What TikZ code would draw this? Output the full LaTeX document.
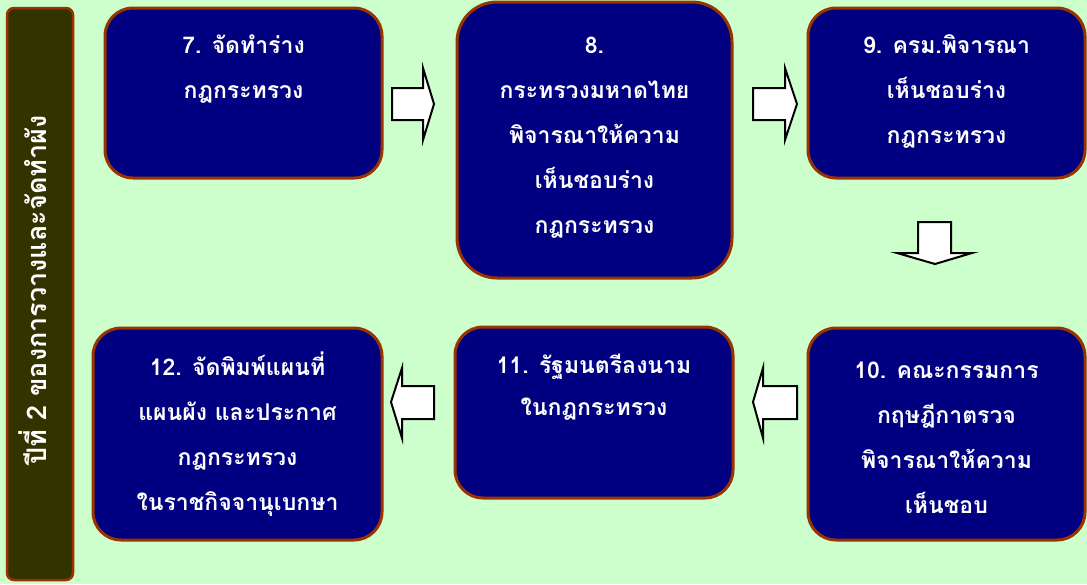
\documentclass[tikz,border=0pt]{standalone}
\usepackage{fontspec}
\newfontfamily\thai[Script=Thai]{Loma}
\definecolor{bgc}{HTML}{CCFFCC}
\definecolor{navy}{HTML}{000080}
\definecolor{brownb}{HTML}{993300}
\definecolor{olive}{HTML}{333300}
\newcommand\tstrut{\rule{0pt}{24pt}}
\tikzset{
  box/.style={draw=brownb, fill=navy, line width=3pt, rounded corners=28pt, inner sep=0pt},
  txt/.style={text=white, align=center, inner sep=0pt, anchor=north, font=\thai\bfseries\fontsize{23pt}{45pt}\selectfont},
  blockarr/.style={draw=black, fill=white, line width=2pt, line join=miter},
  bar/.style={draw=brownb, fill=olive, line width=2.5pt, rounded corners=7pt, inner sep=0pt}
}
\begin{document}
\begin{tikzpicture}[x=1pt,y=-1pt]
\fill[bgc] (0,0) rectangle (1087,584);
\useasboundingbox (0,0) rectangle (1087,584);

\node[bar, minimum width=66pt, minimum height=572pt] (bar) at (40,294) {};
\node[text=white, rotate=90, inner sep=0pt, font=\thai\bfseries\fontsize{27pt}{30pt}\selectfont] (bartxt) at (33,290) {ปีที่ 2 ของการวางและจัดทำผัง};

\node[box, minimum width=277pt, minimum height=170pt] (b7) at (243.5,93) {};
\node[box, rounded corners=40pt, minimum width=275pt, minimum height=276pt] (b8) at (594.5,140) {};
\node[box, minimum width=277pt, minimum height=170pt] (b9) at (946.5,93) {};
\node[box, minimum width=277pt, minimum height=212pt] (b10) at (946.5,434) {};
\node[box, minimum width=278pt, minimum height=171pt] (b11) at (594,412.5) {};
\node[box, minimum width=289pt, minimum height=212pt] (b12) at (237.5,434) {};

\node[txt] (t7) at (243.5,29.5) {\tstrut 7. จัดทำร่าง\\กฎกระทรวง};
\node[txt] (t8) at (594.5,29.5) {\tstrut 8.\\กระทรวงมหาดไทย\\พิจารณาให้ความ\\เห็นชอบร่าง\\กฎกระทรวง};
\node[txt] (t9) at (946.5,29.5) {\tstrut 9. ครม.พิจารณา\\เห็นชอบร่าง\\กฎกระทรวง};
\node[txt] (t10) at (946.5,354.5) {\tstrut 10. คณะกรรมการ\\กฤษฎีกาตรวจ\\พิจารณาให้ความ\\เห็นชอบ};
\node[txt, font=\thai\bfseries\fontsize{23pt}{42pt}\selectfont] (t11) at (594,349.5) {\tstrut 11. รัฐมนตรีลงนาม\\ในกฎกระทรวง};
\node[txt] (t12) at (237.5,351.5) {\tstrut 12. จัดพิมพ์แผนที่\\แผนผัง และประกาศ\\กฎกระทรวง\\ในราชกิจจานุเบกษา};

% block arrows
\draw[blockarr] (392,88) -- (423,88) -- (423,68) -- (434,104) -- (423,140) -- (423,120) -- (392,120) -- cycle;
\draw[blockarr] (753,88) -- (785,88) -- (785,68) -- (797,104) -- (785,140) -- (785,120) -- (753,120) -- cycle;
\draw[blockarr] (918,222) -- (951,222) -- (951,253) -- (972,253) -- (935,264) -- (897,253) -- (918,253) -- cycle;
\draw[blockarr] (797,386) -- (763,386) -- (763,368) -- (753,402) -- (763,438) -- (763,419) -- (797,419) -- cycle;
\draw[blockarr] (434,386) -- (402,386) -- (402,368) -- (391,402) -- (402,438) -- (402,419) -- (434,419) -- cycle;
\end{tikzpicture}
\end{document}
